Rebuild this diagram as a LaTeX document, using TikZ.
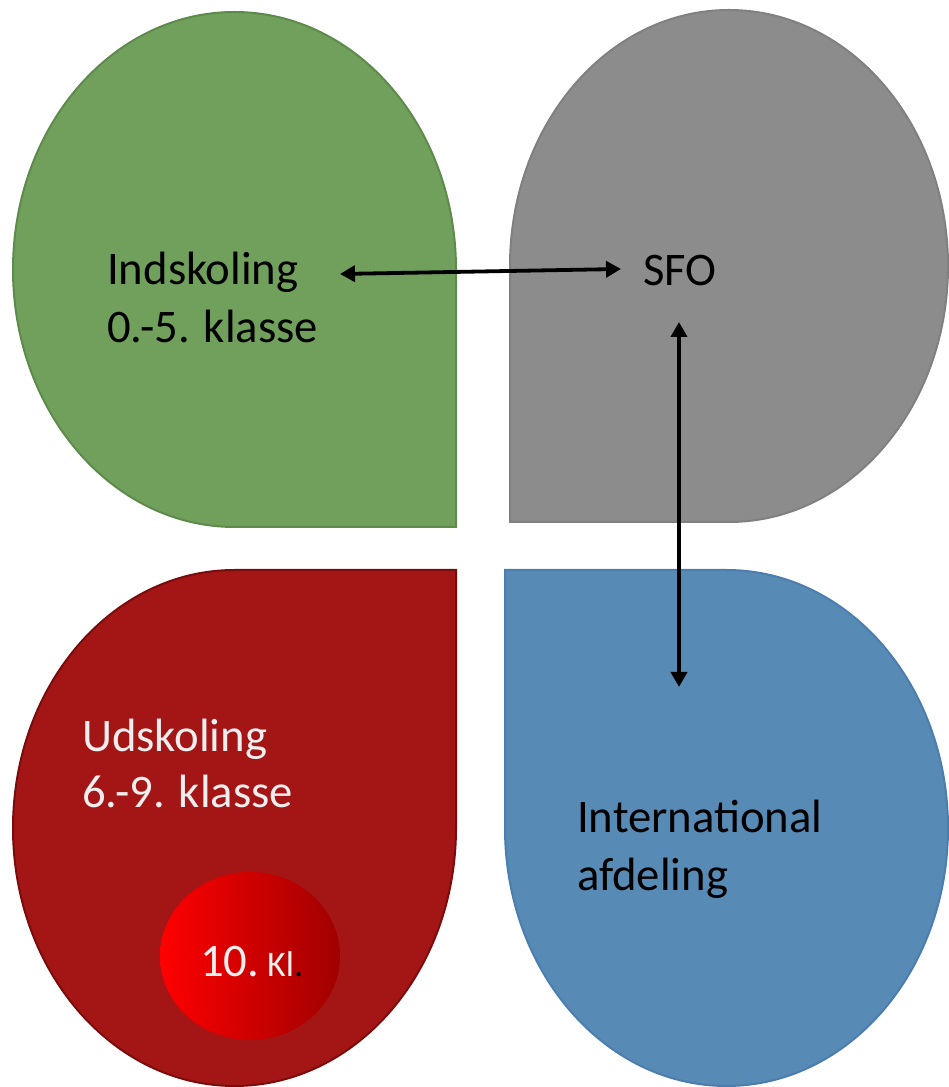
\documentclass[tikz,border=0pt]{standalone}
\usepackage{fontspec}
\setmainfont{Carlito}
\usetikzlibrary{arrows.meta,shapes.geometric}
\definecolor{gfill}{HTML}{70A05C}
\definecolor{gline}{HTML}{5E8A4C}
\definecolor{kfill}{HTML}{8C8C8C}
\definecolor{kline}{HTML}{808080}
\definecolor{rfill}{HTML}{A41516}
\definecolor{rline}{HTML}{7A0C0C}
\definecolor{bfill}{HTML}{588AB6}
\definecolor{bline}{HTML}{4B7DAE}
\definecolor{lighttxt}{HTML}{EEEEEE}
\definecolor{redL}{HTML}{FF0000}
\definecolor{redR}{HTML}{A00000}
\tikzset{
  petal/.style={line width=2pt, line join=miter},
  lbl/.style={anchor=base west, inner sep=0pt, font=\fontsize{46.7}{58}\selectfont},
  twoway/.style={line width=3.8pt, {Triangle[length=15pt,width=16pt]}-{Triangle[length=15pt,width=16pt]}},
}
\begin{document}
\begin{tikzpicture}[x=1pt,y=1pt]
\useasboundingbox (0,0) rectangle (948,1087);
% green (tip bottom-right)
\draw[petal, fill=gfill, draw=gline] (456,560) -- (234.5,560)
  arc[start angle=270, end angle=0, x radius=221.5, y radius=257.5] -- cycle;
% gray (tip bottom-left)
\draw[petal, fill=kfill, draw=kline] (510,565) -- (510,821)
  arc[start angle=180, end angle=-90, x radius=219, y radius=256] -- cycle;
% red (tip top-right)
\draw[petal, fill=rfill, draw=rline] (456,517) -- (456,259)
  arc[start angle=0, end angle=-270, x radius=221.5, y radius=258] -- cycle;
% blue (tip top-left)
\draw[petal, fill=bfill, draw=bline] (505,517) -- (726.5,517)
  arc[start angle=90, end angle=-180, x radius=221.5, y radius=258] -- cycle;
% 10. Kl. circle
\node[ellipse, minimum width=180pt, minimum height=168pt, inner sep=0pt,
  left color=redL, right color=redR, draw=none] (c10) at (250,131) {};
\node[lbl, text=lighttxt] (t10) at (200,110) {10.\,{\fontsize{36}{44}\selectfont Kl\textcolor{black}{.}}};
% labels
\node[lbl] (ind1) at (107,802) {Indskoling};
\node[lbl] (ind2) at (107,744) {0.-5. klasse};
\node[lbl] (sfo) at (643,801) {SFO};
\node[lbl, text=lighttxt] (ud1) at (82,335) {Udskoling};
\node[lbl, text=lighttxt] (ud2) at (82,279) {6.-9. klasse};
\node[lbl] (int1) at (577,254) {International};
\node[lbl] (int2) at (577,196) {afdeling};
% arrows
\coordinate (hA) at (340,813);
\coordinate (hB) at (621,818);
\coordinate (vA) at (679,765);
\coordinate (vB) at (679,400);
\draw[twoway] (hA) -- (hB);
\draw[twoway] (vA) -- (vB);
\end{tikzpicture}
\end{document}
